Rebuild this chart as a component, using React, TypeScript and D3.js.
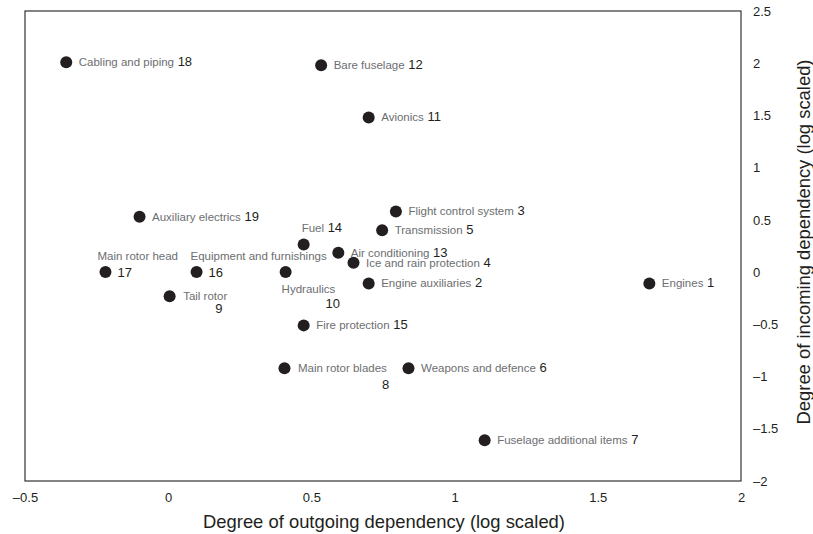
import React, { useRef, useEffect } from 'react';
import * as d3 from 'd3';

// system ids, names and their log-scaled dependency degrees
const ids = [1, 2, 3, 4, 5, 6, 7, 8, 9, 10, 11, 12, 13, 14, 15, 16, 17, 18, 19];
const names = [
  'Engines', 'Engine auxiliaries', 'Flight control system', 'Ice and rain protection',
  'Transmission', 'Weapons and defence', 'Fuselage additional items', 'Main rotor blades',
  'Tail rotor', 'Hydraulics', 'Avionics', 'Bare fuselage', 'Air conditioning', 'Fuel',
  'Fire protection', 'Equipment and furnishings', 'Main rotor head', 'Cabling and piping',
  'Auxiliary electrics',
];
const outgoing = [1.68, 0.70, 0.795, 0.647, 0.747, 0.839, 1.105, 0.406, 0.005, 0.41, 0.70, 0.534, 0.594, 0.473, 0.473, 0.099, -0.219, -0.356, -0.10];
const incoming = [-0.11, -0.11, 0.58, 0.09, 0.40, -0.92, -1.61, -0.92, -0.23, 0.0, 1.48, 1.98, 0.185, 0.265, -0.51, 0.0, 0.0, 2.01, 0.53];

const xTicks = [-0.5, 0, 0.5, 1, 1.5, 2];
const yTicks = [-2, -1.5, -1, -0.5, 0, 0.5, 1, 1.5, 2, 2.5];

// label offsets (px from the dot): [nameDx, nameDy, numDx, numDy]; null num = inline after name
const labelOffsets = {
  14: [-2, -12, null, null],
  17: [-8, -12, 12, 4.5],
  16: [-6, -12, 12, 4.5],
  10: [-4, 20.5, 40, 35.5],
  9: [13.5, 3.5, 45.5, 17],
  8: [13.5, 3.5, 97.5, 20.5],
};

const fmt = d => (d < 0 ? '\u2013' + Math.abs(d) : String(d));

const ScatterChart = () => {
  const svgRef = useRef(null);

  useEffect(() => {
    const width = 813;
    const height = 534;
    const margin = { top: 11, right: 72, bottom: 53, left: 25 };
    const innerW = width - margin.left - margin.right;
    const innerH = height - margin.top - margin.bottom;

    d3.select(svgRef.current).selectAll('*').remove();

    const svg = d3.select(svgRef.current)
      .attr('width', width)
      .attr('height', height)
      .style('font-family', '"Liberation Sans", Arial, sans-serif');

    const g = svg.append('g')
      .attr('transform', `translate(${margin.left},${margin.top})`);

    const x = d3.scaleLinear().domain([-0.5, 2]).range([0, innerW]);
    const y = d3.scaleLinear().domain([-2, 2.5]).range([innerH, 0]);

    // x axis labels
    const xAxis = g.append('g')
      .attr('transform', `translate(0,${innerH})`)
      .call(d3.axisBottom(x).tickValues(xTicks).tickFormat(fmt).tickSize(0).tickPadding(12));
    xAxis.select('.domain').remove();
    xAxis.selectAll('text').attr('font-size', 13).attr('fill', '#231f20')
      .attr('font-family', '"Liberation Sans", Arial, sans-serif');

    // y axis labels on the right
    const yAxis = g.append('g')
      .attr('transform', `translate(${innerW},0)`)
      .call(d3.axisRight(y).tickValues(yTicks).tickFormat(fmt).tickSize(0).tickPadding(12));
    yAxis.select('.domain').remove();
    yAxis.selectAll('text').attr('font-size', 13).attr('fill', '#231f20')
      .attr('font-family', '"Liberation Sans", Arial, sans-serif');

    // frame
    g.append('rect')
      .attr('width', innerW)
      .attr('height', innerH)
      .attr('fill', 'none')
      .attr('stroke', '#333')
      .attr('stroke-width', 1.2);

    // axis titles
    svg.append('text')
      .attr('x', margin.left + innerW / 2 + 1)
      .attr('y', 527.5)
      .attr('text-anchor', 'middle')
      .attr('font-size', 18.4)
      .attr('fill', '#231f20')
      .text('Degree of outgoing dependency (log scaled)');

    svg.append('text')
      .attr('transform', `translate(810,242) rotate(-90)`)
      .attr('text-anchor', 'middle')
      .attr('font-size', 18.4)
      .attr('fill', '#231f20')
      .text('Degree of incoming dependency (log scaled)');

    const points = ids.map((id, i) => ({ id, name: names[i], ox: outgoing[i], iy: incoming[i] }));

    g.selectAll('.dot')
      .data(points)
      .enter().append('circle')
      .attr('class', 'dot')
      .attr('cx', d => x(d.ox))
      .attr('cy', d => y(d.iy))
      .attr('r', 6)
      .attr('fill', '#231f20');

    // labels
    points.forEach(d => {
      const cx = x(d.ox);
      const cy = y(d.iy);
      const off = labelOffsets[d.id] || [12.5, 3.8, null, null];
      const t = g.append('text')
        .attr('x', cx + off[0])
        .attr('y', cy + off[1]);
      t.append('tspan')
        .attr('font-size', 11.5)
        .attr('fill', '#6d6e71')
        .text(d.name);
      if (off[2] === null) {
        t.append('tspan')
          .attr('font-size', 13)
          .attr('fill', '#231f20')
          .text(' ' + d.id);
      } else {
        g.append('text')
          .attr('x', cx + off[2])
          .attr('y', cy + off[3])
          .attr('font-size', 13)
          .attr('fill', '#231f20')
          .text(d.id);
      }
    });
  }, []);

  return (
    <svg ref={svgRef} style={{ position: 'absolute', left: 0, top: 0, background: '#fff' }}></svg>
  );
};

export default function App() {
  return <ScatterChart />;
}
